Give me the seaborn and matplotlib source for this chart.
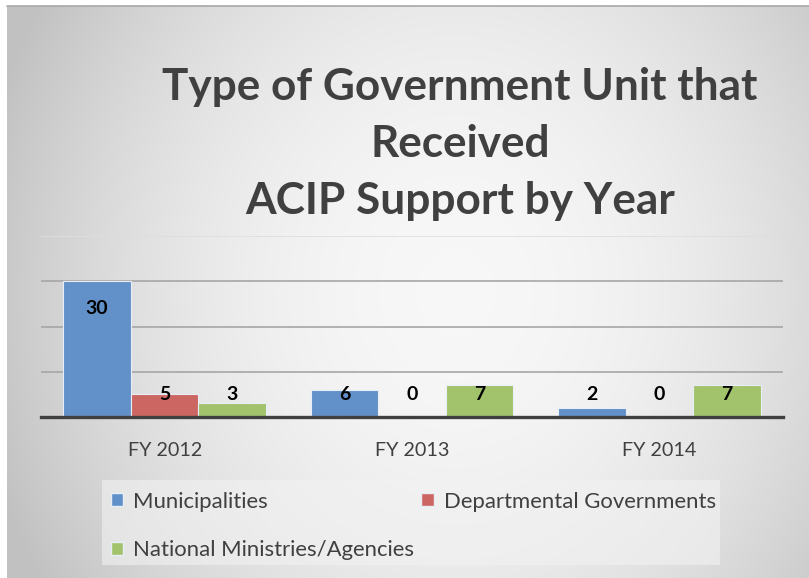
import numpy as np
import pandas as pd
import matplotlib
matplotlib.use("Agg")
import matplotlib.pyplot as plt
import seaborn as sns
from matplotlib.patches import Patch, Rectangle

years = ["FY 2012", "FY 2013", "FY 2014"]
series = ["Municipalities", "Departmental Governments", "National Ministries/Agencies"]
municipalities = [30, 6, 2]
departmental = [5, 0, 0]
national = [3, 7, 7]
colors = ["#6290c8", "#cc6662", "#a3c26c"]
title = "Type of Government Unit that\nReceived\nACIP Support by Year"

df = pd.DataFrame({
    "year": years * 3,
    "series": [series[0]] * 3 + [series[1]] * 3 + [series[2]] * 3,
    "value": municipalities + departmental + national,
})

sns.set_theme(style="white")
plt.rcParams["font.family"] = ["Lato", "DejaVu Sans"]

W, H = 809, 578
fig = plt.figure(figsize=(W / 100, H / 100), dpi=100)

# background gradient panel
bg = fig.add_axes([7 / W, 0, 1 - 7 / W, 1 - 6 / H], zorder=-10)
yy, xx = np.mgrid[0:1:300j, 0:1:400j]
r = np.sqrt(((xx - 0.56) / 0.62) ** 2 + ((yy - 0.5) / 1.0) ** 2)
g = np.clip(0.97 - 0.22 * r ** 2, 0.76, 0.97)
bg.imshow(np.dstack([g, g, g]), aspect="auto", extent=[0, 1, 0, 1], interpolation="bicubic")
bg.set_axis_off()
bg.plot([0, 1], [1, 1], color="#a8a8a8", lw=1.2, transform=bg.transAxes, clip_on=False)

# legend background box
fig.patches.append(Rectangle((102 / W, 1 - 565 / H), (720 - 102) / W, (565 - 480) / H,
                             transform=fig.transFigure, facecolor="#f2f2f2", alpha=0.6,
                             edgecolor="none", zorder=-5))

ax = fig.add_axes([41 / W, 1 - 417 / H, 742 / W, 181 / H])
ax.patch.set_alpha(0)
sns.barplot(data=df, x="year", y="value", hue="series", hue_order=series, order=years,
            palette=colors, width=0.82, ax=ax, legend=False,
            edgecolor="#e8eef6", linewidth=0.8, saturation=1)
ax.set_ylim(0, 40)
ax.set_xlim(-0.5, 2.5)
ax.set_yticks([10, 20, 30, 40])
ax.yaxis.grid(True, color="#a6a6a6", lw=1.2)
ax.set_axisbelow(True)
for sp in ["top", "right", "left"]:
    ax.spines[sp].set_visible(False)
ax.spines["bottom"].set_color("#404040")
ax.spines["bottom"].set_linewidth(2.4)
ax.set_yticklabels([])
ax.tick_params(axis="y", length=0)
ax.tick_params(axis="x", length=0, labelsize=14.2, labelcolor="#404040", pad=18)
ax.set_xlabel("")
ax.set_ylabel("")
gl = ax.get_ygridlines()
gl[-1].set_color("#dedede")

for cont in ax.containers:
    for bar in cont:
        v = bar.get_height()
        ypos = v - 6.0 if v > 10 else 5.0
        ax.text(bar.get_x() + bar.get_width() / 2, ypos, f"{v:.0f}", ha="center", va="center",
                fontsize=14, fontweight="bold", color="black")

fig.text(460 / W, 1 - 144 / H, title, ha="center", va="center", fontsize=31.8,
         fontweight="bold", color="#404040", linespacing=1.52)

handles = [Patch(facecolor=colors[0], edgecolor="#e8eef6"),
           Patch(facecolor=colors[2], edgecolor="#e8eef6"),
           Patch(facecolor=colors[1], edgecolor="#e8eef6")]
labels = [series[0], series[2], series[1]]
fig.legend(handles, labels, ncol=2, loc="upper left", bbox_to_anchor=(104 / W, 1 - 485 / H),
           frameon=False, fontsize=15.9, labelcolor="#404040", handlelength=0.55,
           handleheight=0.55, handletextpad=0.45, labelspacing=1.3, columnspacing=0.35,
           borderaxespad=0, borderpad=0.3)

fig.savefig("out.png", dpi=100)
